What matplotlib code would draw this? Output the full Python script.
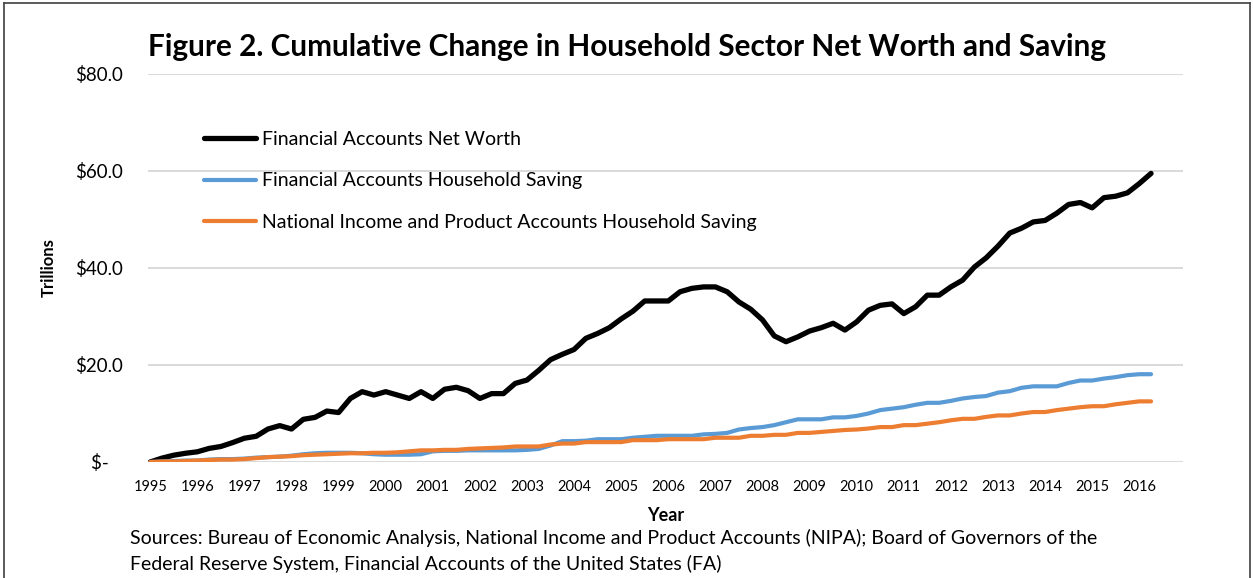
import matplotlib
matplotlib.use('Agg')
import matplotlib.pyplot as plt
from matplotlib.lines import Line2D

plt.rcParams['font.family'] = ['Lato', 'DejaVu Sans']

# quarterly, 1995Q1 .. 2016Q2, trillions of dollars
years = list(range(1995, 2017))

net_worth = [0.0, 0.8, 1.4, 1.8, 2.1, 2.8, 3.2, 4.0, 4.9, 5.3,
             6.8, 7.5, 6.8, 8.8, 9.2, 10.5, 10.2, 13.1, 14.5, 13.8,
             14.5, 13.8, 13.1, 14.5, 13.1, 15.0, 15.4, 14.7, 13.1, 14.1,
             14.1, 16.2, 16.9, 18.9, 21.1, 22.2, 23.2, 25.5, 26.5, 27.7,
             29.5, 31.1, 33.2, 33.2, 33.2, 35.1, 35.8, 36.1, 36.1, 35.1,
             33.0, 31.5, 29.3, 26.0, 24.8, 25.8, 27.0, 27.7, 28.6, 27.2,
             28.9, 31.3, 32.3, 32.6, 30.6, 32.0, 34.4, 34.4, 36.1, 37.5,
             40.2, 42.1, 44.5, 47.2, 48.2, 49.5, 49.8, 51.3, 53.1, 53.5,
             52.4, 54.5, 54.8, 55.5, 57.4, 59.5]

fa_saving = [0.0, 0.1, 0.2, 0.3, 0.3, 0.5, 0.6, 0.6, 0.7, 0.9,
             1.0, 1.1, 1.3, 1.6, 1.8, 1.9, 1.9, 1.9, 1.8, 1.6,
             1.5, 1.5, 1.5, 1.6, 2.2, 2.3, 2.3, 2.4, 2.4, 2.4,
             2.4, 2.4, 2.5, 2.7, 3.4, 4.3, 4.3, 4.4, 4.7, 4.7,
             4.7, 5.0, 5.2, 5.4, 5.4, 5.4, 5.4, 5.7, 5.8, 6.0,
             6.7, 7.0, 7.2, 7.6, 8.2, 8.8, 8.8, 8.8, 9.2, 9.2,
             9.5, 10.0, 10.7, 11.0, 11.3, 11.8, 12.2, 12.2, 12.6, 13.1,
             13.4, 13.6, 14.3, 14.6, 15.3, 15.6, 15.6, 15.6, 16.3, 16.8,
             16.8, 17.2, 17.5, 17.9, 18.1, 18.1]

nipa_saving = [0.0, 0.1, 0.1, 0.2, 0.3, 0.4, 0.5, 0.5, 0.6, 0.8,
               1.0, 1.1, 1.2, 1.4, 1.5, 1.6, 1.7, 1.8, 1.8, 1.9,
               1.9, 2.0, 2.2, 2.4, 2.4, 2.5, 2.5, 2.7, 2.8, 2.9,
               3.0, 3.2, 3.2, 3.2, 3.6, 3.8, 3.8, 4.1, 4.1, 4.1,
               4.1, 4.5, 4.5, 4.5, 4.7, 4.7, 4.7, 4.7, 5.0, 5.0,
               5.0, 5.4, 5.4, 5.6, 5.6, 6.0, 6.0, 6.2, 6.4, 6.6,
               6.7, 6.9, 7.2, 7.2, 7.6, 7.6, 7.9, 8.2, 8.6, 8.9,
               8.9, 9.3, 9.6, 9.6, 10.0, 10.3, 10.3, 10.7, 11.0, 11.3,
               11.5, 11.5, 11.9, 12.2, 12.5, 12.5]

labels = ['Financial Accounts Net Worth',
          'Financial Accounts Household Saving',
          'National Income and Product Accounts Household Saving']

q = list(range(len(net_worth)))

fig = plt.figure(figsize=(12.53, 5.78), dpi=100)
ax = fig.add_axes([0.118, 0.2007, 0.826, 0.6713])

ax.plot(q, net_worth, color='black', lw=3.8, label=labels[0], solid_capstyle='round', zorder=3)
ax.plot(q, fa_saving, color='#5B9BD5', lw=3.0, label=labels[1], solid_capstyle='round', zorder=4)
ax.plot(q, nipa_saving, color='#ED7D31', lw=3.0, label=labels[2], solid_capstyle='round', zorder=5)

ax.set_xlim(-0.2, 87.7)
ax.set_ylim(0, 80)
ax.set_yticks([0, 20, 40, 60, 80])
ax.set_yticklabels(['$-   ', '$20.0', '$40.0', '$60.0', '$80.0'], fontsize=13.5)
ax.set_xticks(q[::4])
ax.set_xticklabels([str(y) for y in years], fontsize=10.5)
ax.tick_params(axis='both', length=0)
ax.tick_params(axis='y', pad=18)
ax.tick_params(axis='x', pad=13)
ax.grid(axis='y', color='#D9D9D9', lw=1.4)
ax.set_axisbelow(True)
for s in ax.spines.values():
    s.set_visible(False)

ax.set_ylabel('Trillions', fontsize=12, fontweight='bold', labelpad=13)
ax.set_xlabel('Year', fontsize=13, fontweight='bold', labelpad=9)

fig.text(0.5, 0.918, 'Figure 2. Cumulative Change in Household Sector Net Worth and Saving',
         ha='center', va='center', fontsize=21.4, fontweight='bold')

leg = ax.legend(loc='upper left', bbox_to_anchor=(0.037, 0.898), frameon=False,
                fontsize=14, handlelength=2.7, handletextpad=0.28, labelspacing=1.25)

fig.text(0.104, 0.069, 'Sources: Bureau of Economic Analysis, National Income and Product Accounts (NIPA); Board of Governors of the',
         fontsize=14, va='center')
fig.text(0.104, 0.024, 'Federal Reserve System, Financial Accounts of the United States (FA)',
         fontsize=14, va='center')

# outer frame
fig.add_artist(Line2D([0.003, 0.003], [0, 0.995], transform=fig.transFigure, color='#404040', lw=1.2))
fig.add_artist(Line2D([0.998, 0.998], [0, 0.995], transform=fig.transFigure, color='#404040', lw=1.2))
fig.add_artist(Line2D([0.003, 0.998], [0.995, 0.995], transform=fig.transFigure, color='#404040', lw=1.2))

fig.savefig('out.png', dpi=100)
